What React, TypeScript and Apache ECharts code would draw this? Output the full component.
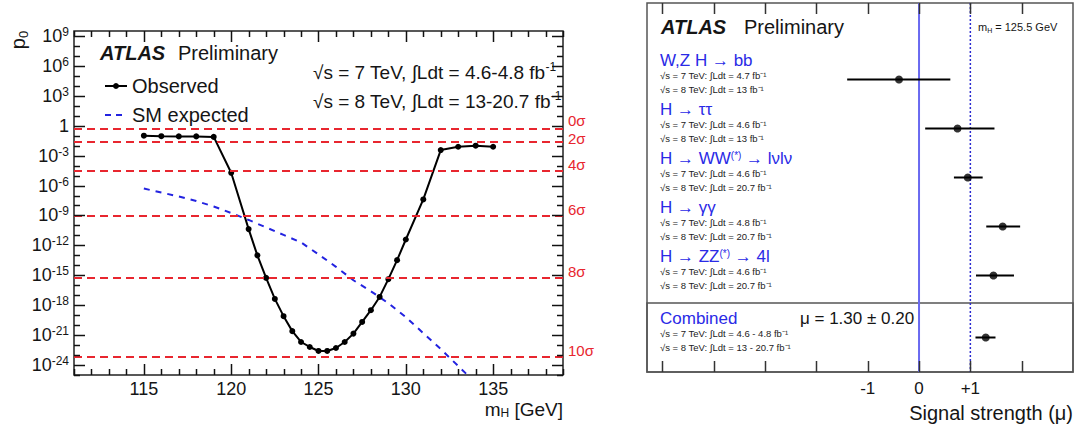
import React, { useEffect, useRef } from 'react';
import * as echarts from 'echarts';

const FONT = "'Liberation Sans', Arial, Helvetica, sans-serif";
const RED = '#e8262f';
const BLUE = '#2a2ae6';
const INK = '#151515';

// ---------- Left panel: local p0 vs m_H (values stored as log10 p0) ----------
const obsMass = [115, 116, 117, 118, 119, 120, 121, 121.5, 122, 122.5, 123, 123.5, 124, 124.5, 125, 125.5, 126, 126.5, 127, 127.5, 128, 128.5, 129, 129.5, 130, 131, 132, 133, 134, 135];
const obsLog10P0 = [-1.0, -1.05, -1.07, -1.07, -1.12, -4.72, -10.37, -13.0, -15.26, -17.37, -19.1, -20.6, -21.69, -22.19, -22.59, -22.59, -22.29, -21.69, -20.85, -19.68, -18.5, -17.17, -15.39, -13.48, -11.41, -7.39, -2.44, -2.11, -2.0, -2.11];
const expMass = [115, 116, 117, 118, 119, 120, 121, 122, 123, 124, 125, 126, 127, 128, 129, 130, 131, 132, 133, 134];
const expLog10P0 = [-6.3, -6.7, -7.1, -7.55, -8.1, -8.75, -9.45, -10.2, -10.95, -11.7, -12.9, -14.15, -15.5, -16.6, -17.8, -19.2, -20.8, -22.4, -24.1, -25.8];
const sigmaNames = ['0σ', '2σ', '4σ', '6σ', '8σ', '10σ'];
const sigmaLog10P0 = [-0.301, -1.643, -4.501, -9.006, -15.208, -23.118];
const massTickLabels = [115, 120, 125, 130, 135];
const log10TickLabels = [-24, -21, -18, -15, -12, -9, -6, -3, 0, 3, 6, 9];
const massTicks = Array.from({ length: 29 }, (_, i) => 111 + i);
const log10Ticks = Array.from({ length: 35 }, (_, i) => -25 + i);

// ---------- Right panel: signal strength per channel ----------
const channels = ['W,Z H → bb', 'H → ττ', 'H → WW(*) → lνlν', 'H → γγ', 'H → ZZ(*) → 4l'];
const lumi7 = ['4.7', '4.6', '4.6', '4.8', '4.6'];
const lumi8 = ['13', '13', '20.7', '20.7', '20.7'];
const muCentral = [-0.39, 0.75, 0.95, 1.63, 1.45];
const muLow = [-1.4, 0.12, 0.68, 1.31, 1.11];
const muHigh = [0.61, 1.47, 1.24, 1.97, 1.85];
const combinedName = ['Combined'];
const combinedLumi7 = ['4.6 - 4.8'];
const combinedLumi8 = ['13 - 20.7'];
const combinedMu = [1.3];
const combinedLow = [1.1];
const combinedHigh = [1.49];
const muTicks = [-5, -4, -3, -2, -1, 0, 1, 2];
const muTickLabels = [-1, 0, 1];
const muReference = [0, 1];

const titleRich = {
  t: { fontSize: 17, color: BLUE, lineHeight: 16, fontFamily: FONT },
  s: { fontSize: 10, color: BLUE, lineHeight: 16, verticalAlign: 'top', fontFamily: FONT },
  l: { fontSize: 9.5, color: '#222', lineHeight: 14, fontFamily: FONT },
};

function channelLabel(name: string, l7: string, l8: string) {
  const parts = name.split('(*)');
  const title = parts.map((p) => `{t|${p}}`).join('{s|(*)}');
  return `${title}\n{l|√s = 7 TeV: ∫Ldt = ${l7} fb⁻¹}\n{l|√s = 8 TeV: ∫Ldt = ${l8} fb⁻¹}`;
}

function errorBarItem(params: any, api: any) {
  const a = api.coord([api.value(0), api.value(2)]);
  const b = api.coord([api.value(1), api.value(2)]);
  return {
    type: 'line',
    shape: { x1: a[0], y1: a[1], x2: b[0], y2: b[1] },
    style: { stroke: '#000', lineWidth: 2 },
  };
}

// tick marks along bottom and top edges of a cartesian (inside, ROOT style)
function xTicksItem(isMajor: (v: number) => boolean, major: number, minor: number, color: string) {
  return (params: any, api: any) => {
    const v = api.value(0);
    const cs = params.coordSys;
    const x = Math.round(api.coord([v, 0])[0]) + 0.5;
    const len = isMajor(v) ? major : minor;
    const yb = cs.y + cs.height;
    const st = { stroke: color, lineWidth: 1.5 };
    return {
      type: 'group',
      children: [
        { type: 'line', shape: { x1: x, y1: yb, x2: x, y2: yb - len }, style: st },
        { type: 'line', shape: { x1: x, y1: cs.y, x2: x, y2: cs.y + len }, style: st },
      ],
    };
  };
}

function yTicksItem(isMajor: (v: number) => boolean, major: number, minor: number, color: string) {
  return (params: any, api: any) => {
    const v = api.value(1);
    const cs = params.coordSys;
    const y = Math.round(api.coord([api.value(0), v])[1]) + 0.5;
    const len = isMajor(v) ? major : minor;
    const xr = cs.x + cs.width;
    const st = { stroke: color, lineWidth: 1.5 };
    return {
      type: 'group',
      children: [
        { type: 'line', shape: { x1: cs.x, y1: y, x2: cs.x + len, y2: y }, style: st },
        { type: 'line', shape: { x1: xr, y1: y, x2: xr - len, y2: y }, style: st },
      ],
    };
  };
}

const txt = (x: number, y: number, text: string, size: number, extra: any = {}) => ({
  type: 'text',
  x,
  y,
  style: {
    text,
    fill: INK,
    font: `${size}px ${FONT}`,
    fontSize: size,
    fontFamily: FONT,
    align: 'left',
    verticalAlign: 'middle',
    textAlign: 'left',
    textVerticalAlign: 'middle',
    ...extra,
  },
});

const supText = (x: number, y: number, text: string, size: number, subSize: number, lh: number, subAlign: string, extra: any = {}) => ({
  type: 'text',
  x,
  y,
  style: {
    text,
    fill: INK,
    verticalAlign: 'middle',
    textVerticalAlign: 'middle',
    ...extra,
    rich: {
      a: { fontSize: size, fontFamily: FONT, color: INK, lineHeight: lh },
      s: { fontSize: subSize, fontFamily: FONT, color: INK, lineHeight: lh, verticalAlign: subAlign },
    },
  },
});

function buildOption(): any {
  const massAxis = { type: 'value', min: 111, max: 139, splitLine: { show: false } };
  const pAxis = { type: 'value', min: -25, max: 9.5, splitLine: { show: false } };
  const muAxis = { type: 'value', min: -5.3, max: 3.0, splitLine: { show: false } };
  // label heights tuned so the close 0σ / 2σ labels sit apart as in the original
  const sigmaLabelHeights = [17, 8, 12, 12, 12, 12];

  return {
    animation: false,
    backgroundColor: '#fff',
    textStyle: { fontFamily: FONT },
    grid: [
      { left: 74, top: 31, width: 489, height: 344, show: true, borderColor: '#222', borderWidth: 1.5, backgroundColor: 'transparent' },
      { left: 647, top: 55, width: 426, height: 245 },
      { left: 647, top: 303, width: 426, height: 69, show: true, borderColor: '#555', borderWidth: 1.5, backgroundColor: 'transparent' },
      { left: 647, top: 3, width: 426, height: 369, show: true, borderColor: '#555', borderWidth: 1.5, backgroundColor: 'transparent' },
    ],
    xAxis: [
      {
        ...massAxis, gridIndex: 0, position: 'bottom', axisLine: { show: false }, axisTick: { show: false },
        axisLabel: { customValues: massTickLabels, fontSize: 18, color: INK, margin: 5, fontFamily: FONT },
      },
      { ...muAxis, gridIndex: 1, show: false },
      { ...muAxis, gridIndex: 2, show: false },
      {
        ...muAxis, gridIndex: 3, position: 'bottom', axisLine: { show: false }, axisTick: { show: false },
        axisLabel: {
          customValues: muTickLabels, fontSize: 17, color: INK, margin: 8, fontFamily: FONT,
          formatter: (v: number) => (v > 0 ? `+${v}` : `${v}`),
        },
      },
    ],
    yAxis: [
      {
        ...pAxis, gridIndex: 0, position: 'left', axisLine: { show: false }, axisTick: { show: false },
        axisLabel: {
          customValues: log10TickLabels, margin: 5,
          formatter: (v: number) => (v === 0 ? '{b|1}' : `{b|10}{s|${v}}`),
          rich: {
            b: { fontSize: 18, color: INK, fontFamily: FONT, lineHeight: 20 },
            s: { fontSize: 12, color: INK, fontFamily: FONT, lineHeight: 20, verticalAlign: 'top' },
          },
        },
      },
      {
        type: 'category', gridIndex: 1, inverse: true, data: channels,
        axisLine: { show: false }, axisTick: { show: false }, splitLine: { show: false },
        axisLabel: {
          inside: true, interval: 0, margin: 13, align: 'left', padding: [0, 0, 11, 0],
          formatter: (name: string) => {
            const i = channels.indexOf(name);
            return channelLabel(name, lumi7[i], lumi8[i]);
          },
          rich: titleRich,
        },
      },
      {
        type: 'category', gridIndex: 2, inverse: true, data: combinedName,
        axisLine: { show: false }, axisTick: { show: false }, splitLine: { show: false },
        axisLabel: {
          inside: true, interval: 0, margin: 13, align: 'left', padding: [0, 0, 11, 0],
          formatter: (name: string) => channelLabel(name, combinedLumi7[0], combinedLumi8[0]),
          rich: titleRich,
        },
      },
      { type: 'value', gridIndex: 3, min: 0, max: 1, show: false },
    ],
    series: [
      {
        name: 'mass ticks', type: 'custom', xAxisIndex: 0, yAxisIndex: 0, silent: true, z: 5,
        data: massTicks.map((v) => [v, 0]),
        renderItem: xTicksItem((v) => massTickLabels.includes(v), 11, 6, '#111'),
      },
      {
        name: 'p0 ticks', type: 'custom', xAxisIndex: 0, yAxisIndex: 0, silent: true, z: 5,
        data: log10Ticks.map((v) => [111, v]),
        renderItem: yTicksItem((v) => log10TickLabels.includes(v), 11, 6, '#111'),
      },
      {
        name: 'sigma levels', type: 'line', xAxisIndex: 0, yAxisIndex: 0, data: [], silent: true,
        markLine: {
          symbol: 'none', silent: true, animation: false,
          lineStyle: { color: RED, type: [8, 5], width: 2 },
          label: {
            show: true, position: 'end', formatter: '{b}', color: RED, fontSize: 15, fontFamily: FONT,
            distance: 5, verticalAlign: 'bottom', lineHeight: 12,
          },
          data: sigmaNames.map((n, i) => ({
            name: n,
            yAxis: sigmaLog10P0[i],
            label: { lineHeight: sigmaLabelHeights[i] },
          })),
        },
      },
      {
        name: 'SM expected', type: 'line', xAxisIndex: 0, yAxisIndex: 0,
        data: expMass.map((m, i) => [m, expLog10P0[i]]),
        showSymbol: false, symbol: 'none', color: '#2323e0',
        lineStyle: { color: '#2323e0', width: 2, type: [6, 6] },
        clip: true,
      },
      {
        name: 'Observed', type: 'line', xAxisIndex: 0, yAxisIndex: 0,
        data: obsMass.map((m, i) => [m, obsLog10P0[i]]),
        symbol: 'circle', symbolSize: 6, color: '#000',
        itemStyle: { color: '#000' },
        lineStyle: { color: '#000', width: 2 },
      },
      {
        name: 'mu ticks', type: 'custom', xAxisIndex: 3, yAxisIndex: 3, silent: true, z: 5,
        data: muTicks.map((v) => [v, 0]),
        renderItem: xTicksItem(() => true, 11, 11, '#333'),
      },
      {
        name: 'reference', type: 'custom', xAxisIndex: 3, yAxisIndex: 3, silent: true,
        data: muReference.map((v) => [v, 0]),
        renderItem: (params: any, api: any) => {
          const v = api.value(0);
          const top = api.coord([v, 1]);
          const bot = api.coord([v, 0]);
          const solid = params.dataIndex === 0;
          return {
            type: 'line',
            shape: { x1: top[0], y1: top[1], x2: bot[0], y2: bot[1] },
            style: solid
              ? { stroke: '#6a6af0', lineWidth: 2 }
              : { stroke: '#2a2ad0', lineWidth: 1.5, lineDash: [2, 2] },
          };
        },
      },
      {
        name: 'channel errors', type: 'custom', xAxisIndex: 1, yAxisIndex: 1,
        data: channels.map((c, i) => [muLow[i], muHigh[i], c]),
        encode: { x: [0, 1], y: 2 },
        renderItem: errorBarItem,
      },
      {
        name: 'channel mu', type: 'scatter', xAxisIndex: 1, yAxisIndex: 1,
        data: channels.map((c, i) => [muCentral[i], c]),
        symbolSize: 8, itemStyle: { color: '#000' },
      },
      {
        name: 'combined errors', type: 'custom', xAxisIndex: 2, yAxisIndex: 2,
        data: combinedName.map((c, i) => [combinedLow[i], combinedHigh[i], c]),
        encode: { x: [0, 1], y: 2 },
        renderItem: errorBarItem,
      },
      {
        name: 'combined mu', type: 'scatter', xAxisIndex: 2, yAxisIndex: 2,
        data: combinedName.map((c, i) => [combinedMu[i], c]),
        symbolSize: 8, itemStyle: { color: '#000' },
      },
    ],
    graphic: [
      // left panel header and legend
      txt(100, 53, 'ATLAS', 20, { font: `italic bold 20px ${FONT}`, fontStyle: 'italic', fontWeight: 'bold' }),
      txt(178, 53, 'Preliminary', 20),
      { type: 'line', shape: { x1: 105, y1: 86, x2: 127, y2: 86 }, style: { stroke: '#000', lineWidth: 2 } },
      { type: 'circle', shape: { cx: 116, cy: 86, r: 3 }, style: { fill: '#000' } },
      txt(132, 86, 'Observed', 20),
      { type: 'line', shape: { x1: 105, y1: 115, x2: 127, y2: 115 }, style: { stroke: '#2323e0', lineWidth: 2, lineDash: [6, 5] } },
      txt(132, 115, 'SM expected', 20),
      supText(313, 72, '{a|√s = 7 TeV, ∫Ldt = 4.6-4.8 fb}{s|-1}', 19, 12, 22, 'top'),
      supText(313, 101, '{a|√s = 8 TeV, ∫Ldt = 13-20.7 fb}{s|-1}', 19, 12, 22, 'top'),
      {
        ...supText(18, 40, '{a|p}{s|0}', 20, 13, 24, 'bottom', { align: 'center', textAlign: 'center' }),
        rotation: Math.PI / 2,
      },
      supText(563, 409, '{a|m}{s|H}{a| [GeV]}', 19, 12, 19, 'bottom', { align: 'right', textAlign: 'right' }),
      // right panel texts
      txt(661, 27, 'ATLAS', 20, { font: `italic bold 20px ${FONT}`, fontStyle: 'italic', fontWeight: 'bold' }),
      txt(744, 27, 'Preliminary', 20),
      supText(978, 27, '{a|m}{s|H}{a| = 125.5 GeV}', 11, 7, 14, 'bottom'),
      txt(800, 318, 'μ = 1.30 ± 0.20', 17),
      txt(1073, 413, 'Signal strength (μ)', 20, { align: 'right', textAlign: 'right' }),
    ],
  };
}

export default function App() {
  const ref = useRef<HTMLDivElement>(null);
  useEffect(() => {
    if (!ref.current) return;
    const chart = echarts.init(ref.current, null, { renderer: 'svg' });
    chart.setOption(buildOption());
    return () => chart.dispose();
  }, []);
  return (
    <div
      ref={ref}
      style={{ position: 'fixed', left: 0, top: 0, width: 1077, height: 430, background: '#fff' }}
    />
  );
}
